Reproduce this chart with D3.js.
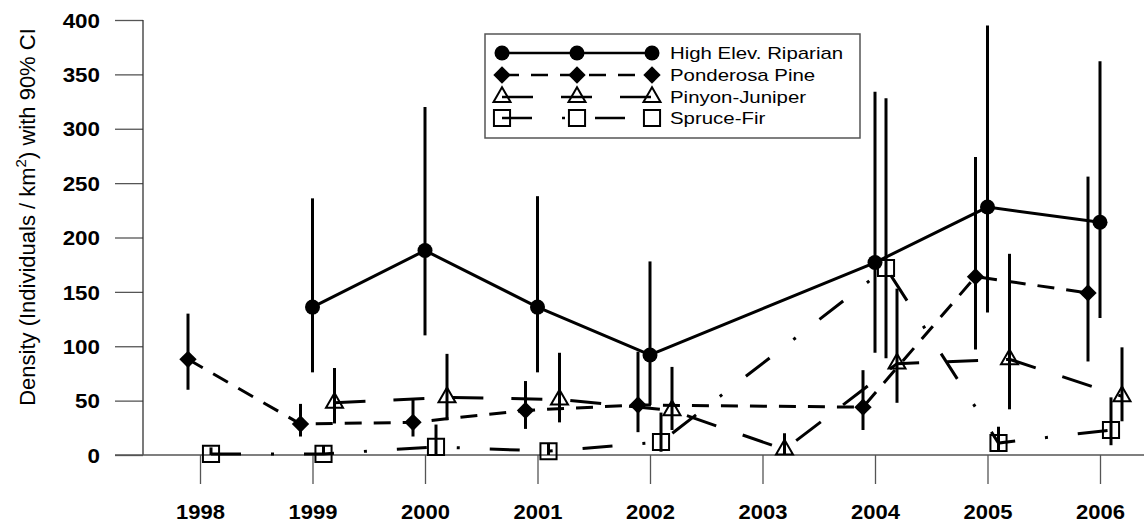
<!DOCTYPE html>
<html>
<head>
<meta charset="utf-8">
<script src="https://cdn.jsdelivr.net/npm/d3@7/dist/d3.min.js"></script>
<style>
  html, body { margin: 0; padding: 0; background: #fff; }
  svg { display: block; }
  text { font-family: "Liberation Sans", Arial, Helvetica, sans-serif; fill: #000; }
</style>
</head>
<body>
<svg id="chart" width="1144" height="523"></svg>
<script>
// Survey years shown on the x axis
const yearTicks = [1998, 1999, 2000, 2001, 2002, 2003, 2004, 2005, 2006];
const densityTicks = [0, 50, 100, 150, 200, 250, 300, 350, 400];

// High Elevation Riparian
const herYears = [1999, 2000, 2001, 2002, 2004, 2005, 2006];
const herDensity = [136, 188, 136, 92, 177, 228, 214];
const herLow = [76, 110, 76, 46, 94, 131, 126];
const herHigh = [236, 320, 238, 178, 334, 395, 362];

// Ponderosa Pine
const ppYears = [1998, 1999, 2000, 2001, 2002, 2004, 2005, 2006];
const ppDensity = [88, 28.5, 30, 41, 46, 44, 164, 149];
const ppLow = [60, 17, 17, 24, 21, 23, 97, 86];
const ppHigh = [130, 47, 51, 68, 95, 78, 274, 256];

// Pinyon-Juniper
const pjYears = [1999, 2000, 2001, 2002, 2003, 2004, 2005, 2006];
const pjDensity = [48, 53, 51, 41, 5, 84, 88, 54];
const pjLow = [29, 32, 30, 23, 0, 48, 42, 31];
const pjHigh = [80, 93, 94, 81, 20, 153, 185, 99];

// Spruce-Fir
const sfYears = [1998, 1999, 2000, 2001, 2002, 2004, 2005, 2006];
const sfDensity = [1, 1, 7.5, 3.5, 12, 172, 11, 23];
const sfLow = [0, 0, 0, 0, 3, 89, 3, 9];
const sfHigh = [7, 9, 28, 11, 39, 328, 26, 53];

const seriesNames = ["High Elev. Riparian", "Ponderosa Pine", "Pinyon-Juniper", "Spruce-Fir"];

function zipSeries(years, dens, lo, hi) {
  return years.map((y, i) => ({ year: y, value: dens[i], low: lo[i], high: hi[i] }));
}

const svg = d3.select("#chart");
const W = 1144, H = 523;
svg.append("rect").attr("width", W).attr("height", H).attr("fill", "#fff");

const x = d3.scaleLinear().domain([1998, 2006]).range([200, 1100]);
const y = d3.scaleLinear().domain([0, 400]).range([455, 20]);

// marker symbols
const circleSym = d3.symbol(d3.symbolCircle, Math.PI * 7.5 * 7.5)();
const diamondSym = d3.symbol(d3.symbolSquare, 150)();
const triangleSym = d3.symbol(d3.symbolTriangle, 125)();
const squareSym = d3.symbol(d3.symbolSquare, 260)();

const series = [
  { name: seriesNames[0], data: zipSeries(herYears, herDensity, herLow, herHigh), dx: 0,
    dash: null, sym: circleSym, rot: 0, fill: "#000", sw: 0 },
  { name: seriesNames[1], data: zipSeries(ppYears, ppDensity, ppLow, ppHigh), dx: -12,
    dash: "17,12", sym: diamondSym, rot: 45, fill: "#000", sw: 0 },
  { name: seriesNames[2], data: zipSeries(pjYears, pjDensity, pjLow, pjHigh), dx: 22,
    dash: "31,28", sym: triangleSym, rot: 0, fill: "none", sw: 2 },
  { name: seriesNames[3], data: zipSeries(sfYears, sfDensity, sfLow, sfHigh), dx: 11,
    dash: "30,30,3,30", sym: squareSym, rot: 0, fill: "none", sw: 2 }
];

// Stretch text horizontally by a factor while keeping it real text
function stretch(sel, k) {
  sel.each(function () {
    const w = this.getComputedTextLength();
    d3.select(this).attr("textLength", w * k).attr("lengthAdjust", "spacingAndGlyphs");
  });
}

// ---- Axes ----
const axisColor = "#555";
const yAxis = svg.append("g").attr("transform", "translate(143,0)")
  .call(d3.axisLeft(y).tickValues(densityTicks).tickSize(28).tickFormat(d3.format("d")));
yAxis.select(".domain").remove();
yAxis.selectAll(".tick line").attr("stroke", axisColor).attr("stroke-width", 1.3);
yAxis.selectAll(".tick text").attr("x", -43).attr("dy", "0.36em")
  .attr("font-size", 20).attr("font-weight", "bold")
  .attr("font-family", "Liberation Sans, Arial, sans-serif");
svg.append("line").attr("x1", 143).attr("x2", 143).attr("y1", y(400)).attr("y2", y(0))
  .attr("stroke", "#333").attr("stroke-width", 1.3);

const xAxis = svg.append("g").attr("transform", "translate(0,455)")
  .call(d3.axisBottom(x).tickValues(yearTicks).tickSize(29).tickFormat(d3.format("d")));
xAxis.select(".domain").remove();
xAxis.selectAll(".tick line").attr("stroke", axisColor).attr("stroke-width", 1.3);
xAxis.selectAll(".tick text").attr("y", 64).attr("dy", 0)
  .attr("font-size", 20).attr("font-weight", "bold")
  .attr("font-family", "Liberation Sans, Arial, sans-serif");
svg.append("line").attr("x1", 115).attr("x2", 1144).attr("y1", y(0)).attr("y2", y(0))
  .attr("stroke", axisColor).attr("stroke-width", 1.3);

stretch(yAxis.selectAll(".tick text"), 1.12);
stretch(xAxis.selectAll(".tick text"), 1.1);

// y axis title
const yTitle = svg.append("text")
  .attr("transform", "translate(35,217) rotate(-90)")
  .attr("text-anchor", "middle").attr("font-size", 22);
yTitle.append("tspan").text("Density (Individuals / km");
yTitle.append("tspan").attr("font-size", 15).attr("dy", -9).text("2");
yTitle.append("tspan").attr("dy", 9).text(") with 90% CI");

// ---- Data ----
const plot = svg.append("g");

// confidence interval bars
series.forEach(s => {
  plot.append("g").selectAll("line").data(s.data).join("line")
    .attr("x1", d => x(d.year) + s.dx).attr("x2", d => x(d.year) + s.dx)
    .attr("y1", d => y(d.low)).attr("y2", d => y(d.high))
    .attr("stroke", "#000").attr("stroke-width", 3);
});

// connecting lines
series.forEach(s => {
  const line = d3.line().x(d => x(d.year) + s.dx).y(d => y(d.value));
  plot.append("path").datum(s.data).attr("d", line)
    .attr("fill", "none").attr("stroke", "#000").attr("stroke-width", 3)
    .attr("stroke-dasharray", s.dash);
});

// markers
series.forEach(s => {
  plot.append("g").selectAll("path").data(s.data).join("path")
    .attr("d", s.sym)
    .attr("transform", d => `translate(${x(d.year) + s.dx},${y(d.value)}) rotate(${s.rot})`)
    .attr("fill", s.fill).attr("stroke", "#000").attr("stroke-width", s.sw);
});

// ---- Legend ----
const lg = svg.append("g");
lg.append("rect").attr("x", 485).attr("y", 34).attr("width", 375).attr("height", 104)
  .attr("fill", "#fff").attr("stroke", "#555").attr("stroke-width", 1.5);
const legendX = [502, 577, 652];
const legendRows = [53, 75, 97, 118];
series.forEach((s, i) => {
  const ry = legendRows[i];
  lg.append("line").attr("x1", legendX[0]).attr("x2", legendX[2]).attr("y1", ry).attr("y2", ry)
    .attr("stroke", "#000").attr("stroke-width", 2.5).attr("stroke-dasharray", s.dash);
  legendX.forEach(lx => {
    lg.append("path").attr("d", s.sym)
      .attr("transform", `translate(${lx},${ry}) rotate(${s.rot})`)
      .attr("fill", s.fill).attr("stroke", "#000").attr("stroke-width", s.sw);
  });
  lg.append("text").attr("x", 670).attr("y", ry + 6).attr("font-size", 17).text(s.name);
});
stretch(lg.selectAll("text"), 1.2);
</script>
</body>
</html>
